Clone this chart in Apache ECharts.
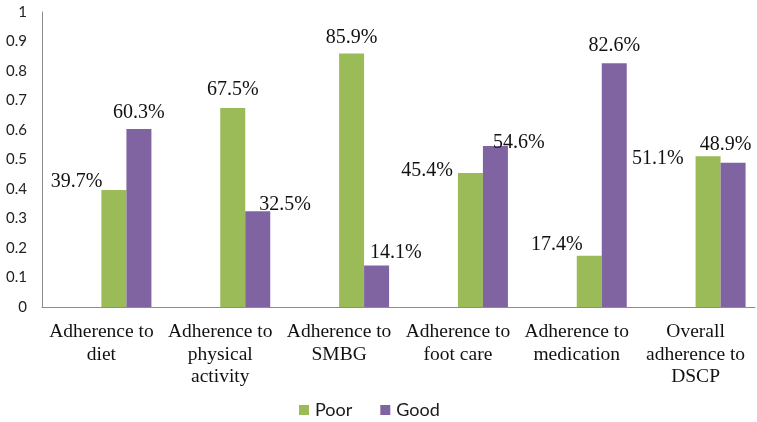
<!DOCTYPE html>
<html>
<head>
<meta charset="utf-8">
<script src="https://cdn.jsdelivr.net/npm/echarts@6/dist/echarts.min.js"></script>
<style>
  html, body { margin: 0; padding: 0; background: #fff; }
  #chart { width: 757px; height: 422px; }
</style>
</head>
<body>
<div id="chart"></div>
<script>
// 类别和数值
const categories = [
  'Adherence to\ndiet',
  'Adherence to\nphysical\nactivity',
  'Adherence to\nSMBG',
  'Adherence to\nfoot care',
  'Adherence to\nmedication',
  'Overall\nadherence to\nDSCP'
]
const poorValues = [0.397, 0.675, 0.859, 0.454, 0.174, 0.511]
const goodValues = [0.603, 0.325, 0.141, 0.546, 0.826, 0.489]

// data labels were placed by hand in the original: [dx, dy, align] from bar top-left
const poorLabelPos = [[1, -8, 'right'], [12.5, -18, 'center'], [12.5, -16, 'center'], [-5, -2, 'right'], [6, -11, 'right'], [-12, 2, 'right']]
const goodLabelPos = [[12.5, -16, 'center'], [14, -6, 'left'], [6, -13, 'left'], [10, -3, 'left'], [12.5, -18, 'center'], [5, -18, 'center']]

const serif = '"Liberation Serif", "Times New Roman", serif'

function withLabels(values, pos) {
  return values.map((v, i) => ({
    value: v,
    label: {
      position: [pos[i][0], pos[i][1]],
      align: pos[i][2],
      verticalAlign: 'middle'
    }
  }))
}

function pad(name) {
  // empty slot so the pair sits right of the category centre, like the original
  return { name: name, type: 'bar', barWidth: 25, barGap: 0, data: categories.map(() => '-'), silent: true }
}

const chart = echarts.init(document.getElementById('chart'))
chart.setOption({
  animation: false,
  grid: { left: 42, right: 2, top: 12, bottom: 115 },
  legend: {
    data: ['Poor', 'Good'],
    left: 294,
    top: 396,
    icon: 'rect',
    itemWidth: 10,
    itemHeight: 10,
    itemGap: 28,
    textStyle: { fontFamily: 'Lato', fontSize: 18, color: '#1a1a1a', padding: [0, 0, 0, 1] }
  },
  xAxis: {
    type: 'category',
    data: categories,
    axisLine: { lineStyle: { color: '#8c8c8c', width: 1 } },
    axisTick: { show: false },
    axisLabel: {
      interval: 0,
      margin: 14,
      fontFamily: serif,
      fontSize: 19.5,
      lineHeight: 22.5,
      color: '#111'
    }
  },
  yAxis: {
    type: 'value',
    min: 0,
    max: 1,
    interval: 0.1,
    splitLine: { show: false },
    axisLine: { show: true, lineStyle: { color: '#8c8c8c', width: 1 } },
    axisTick: { show: false },
    axisLabel: { margin: 15, fontFamily: 'Lato', fontSize: 15, color: '#222' }
  },
  series: [
    pad('pad1'),
    pad('pad2'),
    {
      name: 'Poor',
      type: 'bar',
      barWidth: 25,
      barGap: 0,
      itemStyle: { color: '#9bbb59' },
      label: {
        show: true,
        fontFamily: serif,
        fontSize: 20,
        color: '#111',
        formatter: p => (p.value * 100).toFixed(1) + '%'
      },
      data: withLabels(poorValues, poorLabelPos)
    },
    {
      name: 'Good',
      type: 'bar',
      barWidth: 25,
      barGap: 0,
      itemStyle: { color: '#8064a2' },
      label: {
        show: true,
        fontFamily: serif,
        fontSize: 20,
        color: '#111',
        formatter: p => (p.value * 100).toFixed(1) + '%'
      },
      data: withLabels(goodValues, goodLabelPos)
    }
  ]
})
</script>
</body>
</html>
